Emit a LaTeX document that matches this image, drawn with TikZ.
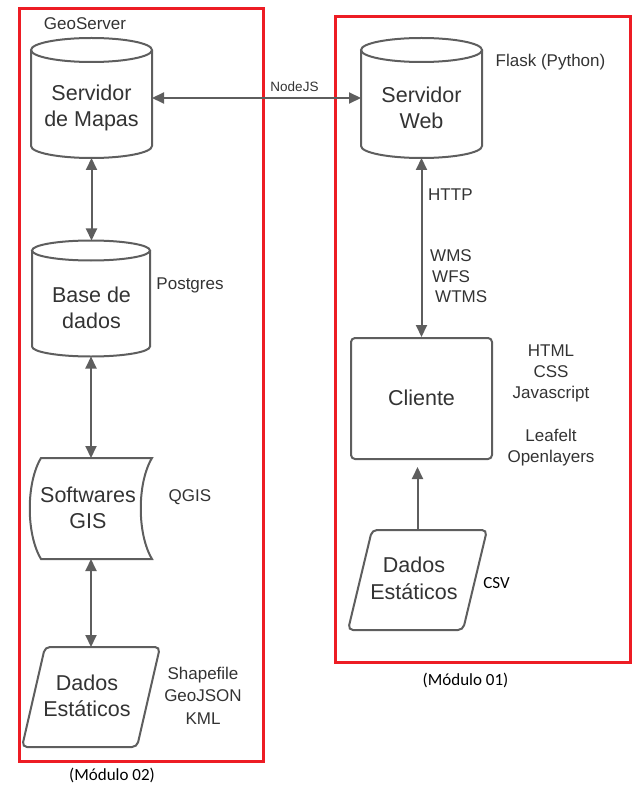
\documentclass[tikz,border=0pt]{standalone}
\usepackage{fontspec}
\setmainfont{Liberation Sans}
\newfontfamily\calfont{Carlito}
\usetikzlibrary{arrows.meta,calc}
\definecolor{lc}{HTML}{5E5E5E}
\definecolor{tc}{HTML}{333333}
\definecolor{rc}{HTML}{ED1C24}
\tikzset{
  gl/.style={draw=lc, line width=2pt},
  mt/.style={font=\fontsize{21.5}{26.5}\selectfont, text=tc, align=center, inner sep=0pt},
  st/.style={font=\fontsize{17}{21}\selectfont, text=tc, align=center, inner sep=0pt},
  ct/.style={font=\calfont\fontsize{17}{21}\selectfont, text=black, inner sep=0pt},
  arr/.style={draw=lc, line width=2pt, {Triangle[length=12pt,width=11pt]}-{Triangle[length=12pt,width=11pt]}},
  sarr/.style={draw=lc, line width=2pt, -{Triangle[length=12pt,width=11pt]}},
  frm/.style={draw=rc, line width=3pt, inner sep=0pt, anchor=north west},
  geo/.style={draw=none, inner sep=0pt, outer sep=0pt},
}
\newcommand\drawcyl[3]{%
  \draw[gl] ($(#1.north west)+(0,-#3)$) -- ($(#1.south west)+(0,#3)$)
     arc[start angle=180,end angle=360,x radius=#2,y radius=#3]
     -- ($(#1.north east)+(0,-#3)$);
  \draw[gl] ($(#1.north)+(0,-#3)$) ellipse[x radius=#2,y radius=#3];
}
\newcommand\drawpar[2]{%
  \draw[gl, rounded corners=5pt] ($(#1.north west)+(#2,0)$) -- (#1.north east)
     -- ($(#1.south east)+(-#2,0)$) -- (#1.south west) -- cycle;
}
\begin{document}
\begin{tikzpicture}[x=1pt,y=1pt]
\useasboundingbox (0,0) rectangle (635,-786);
% frames
\node[frm, minimum width=244, minimum height=753] (m2) at (18,-7) {};
\node[frm, minimum width=295, minimum height=646] (m1) at (334,-15) {};
% cylinders
\node[geo, minimum width=121, minimum height=120] (sm) at (91.5,-98) {};
\drawcyl{sm}{60.5}{12}
\node[mt] (smt) at (91.5,-108) {Servidor\\de Mapas};
\node[geo, minimum width=121, minimum height=120] (sw) at (421.5,-98) {};
\drawcyl{sw}{60.5}{12}
\node[mt] (swt) at (421.5,-108) {Servidor\\Web};
\node[geo, minimum width=118, minimum height=116] (bd) at (91,-298.5) {};
\drawcyl{bd}{59}{10}
\node[mt] (bdt) at (91.5,-308) {Base de\\dados};
% softwares GIS
\node[geo, minimum width=122, minimum height=101] (gis) at (91,-508.5) {};
\draw[gl] ($(gis.north west)+(11,0)$) -- (gis.north east)
   .. controls ($(gis.north east)+(-15,-25)$) and ($(gis.south east)+(-15,25)$) .. (gis.south east)
   -- ($(gis.south west)+(11,0)$)
   .. controls ($(gis.south west)+(-4,25)$) and ($(gis.north west)+(-4,-25)$) .. ($(gis.north west)+(11,0)$) -- cycle;
\node[mt] (gist) at (88,-508) {Softwares\\GIS};
% dados estaticos left
\node[geo, minimum width=138, minimum height=100] (de1) at (91,-697) {};
\drawpar{de1}{23}
\node[mt] (de1t) at (87,-696) {Dados\\Estáticos};
% cliente
\node[gl, rounded corners=4pt, minimum width=141, minimum height=121, inner sep=0pt] (cl) at (421.5,-398.5) {};
\node[mt] (clt) at (421.5,-397.5) {Cliente};
% dados estaticos right
\node[geo, minimum width=139, minimum height=100] (de2) at (417.5,-580) {};
\drawpar{de2}{24}
\node[mt] (de2t) at (414,-578.5) {Dados\\Estáticos};
% connectors
\draw[arr] (sm.east) -- (sw.west);
\draw[arr] (sm.south) -- (sm.south |- bd.north);
\draw[arr] (bd.south) -- (bd.south |- gis.north);
\draw[arr] (gis.south) -- (gis.south |- de1.north);
\draw[arr] (sw.south) -- (cl.north);
\draw[sarr, shorten >=7pt] (de2.north) -- (de2.north |- cl.south);
% labels
\node[st, font=\fontsize{13.5}{16}\selectfont] (nj) at (294.5,-87) {NodeJS};
\node[st] (gs) at (85,-24) {GeoServer};
\node[st] (fl) at (550.5,-62) {Flask (Python)};
\node[st] (pg) at (190,-285) {Postgres};
\node[st] (qg) at (190,-497) {QGIS};
\node[st, font=\fontsize{17}{22.5}\selectfont] (shp) at (203,-695.5) {Shapefile\\GeoJSON\\KML};
\node[st] (web) at (551,-373) {HTML\\CSS\\Javascript};
\node[st] (lib) at (551,-448) {Leafelt\\Openlayers};
\node[st, anchor=west] (http) at (428,-195) {HTTP};
\node[st, anchor=west] (wms) at (430,-256) {WMS};
\node[st, anchor=west] (wfs) at (432,-277) {WFS};
\node[st, anchor=west] (wtms) at (435,-297) {WTMS};
\node[ct] (csv) at (496.5,-583) {CSV};
\node[ct] (md2) at (112,-775) {(Módulo 02)};
\node[ct] (md1) at (465.5,-680) {(Módulo 01)};
\end{tikzpicture}
\end{document}
